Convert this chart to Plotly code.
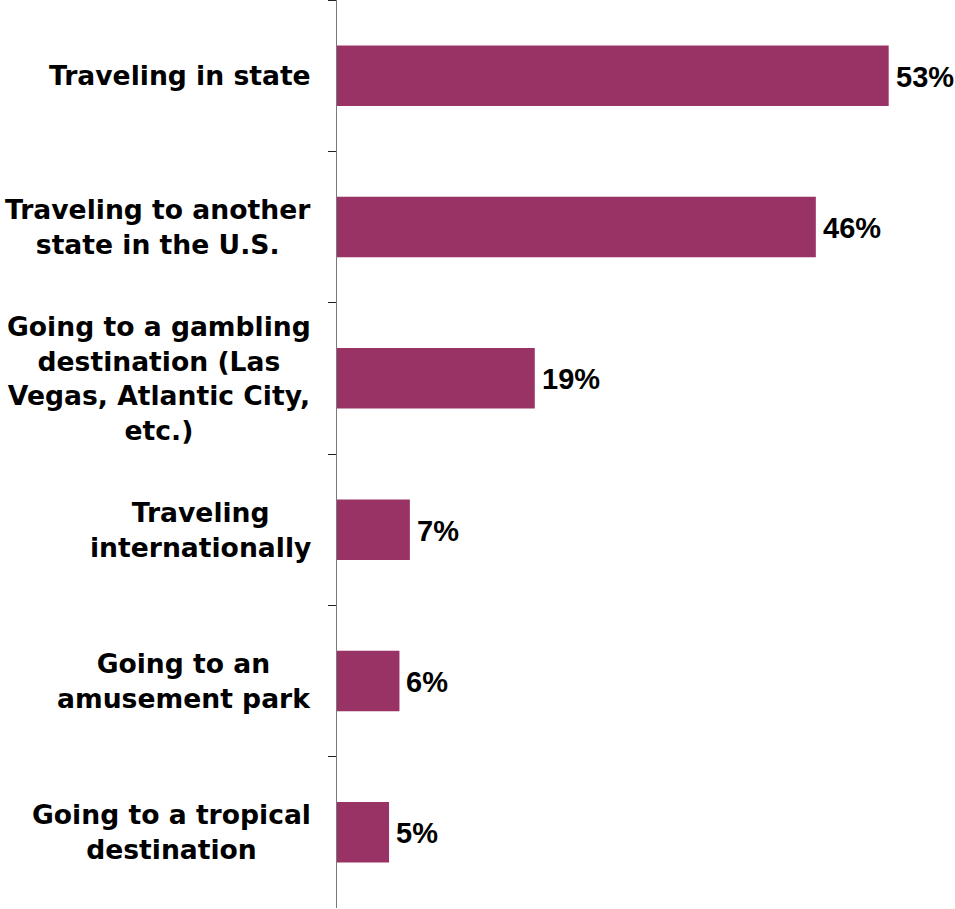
import plotly.graph_objects as go

categories = [
    "Traveling in state",
    "Traveling to another<br>state in the U.S.",
    "Going to a gambling<br>destination (Las<br>Vegas, Atlantic City,<br>etc.)",
    "Traveling<br>internationally",
    "Going to an<br>amusement park",
    "Going to a tropical<br>destination",
]
values = [53, 46, 19, 7, 6, 5]
value_labels = ["53%", "46%", "19%", "7%", "6%", "5%"]

BAR_COLOR = "#993366"

fig = go.Figure(
    go.Bar(
        x=values,
        y=categories,
        orientation="h",
        marker=dict(color=BAR_COLOR, line=dict(width=0)),
        hoverinfo="skip",
    )
)

annotations = []
for cat in categories:
    annotations.append(dict(
        x=0, xref="paper", y=cat, yref="y",
        text=cat, showarrow=False, xanchor="right", yanchor="middle",
        align="center", xshift=-24,
        font=dict(family="DejaVu Sans", size=26.6, color="#000000", weight="bold"),
    ))
for cat, v, lab in zip(categories, values, value_labels):
    annotations.append(dict(
        x=v, xref="x", y=cat, yref="y",
        text=lab, showarrow=False, xanchor="left", yanchor="middle",
        xshift=5, yshift=-1,
        font=dict(family="Liberation Sans", size=29, color="#000000", weight="bold"),
    ))

fig.update_layout(
    width=955, height=909,
    margin=dict(l=337, r=0, t=0, b=1),
    paper_bgcolor="white", plot_bgcolor="white",
    showlegend=False,
    bargap=0.6,
    annotations=annotations,
    xaxis=dict(range=[0, 59.37], visible=False, fixedrange=True),
    yaxis=dict(
        autorange="reversed",
        showticklabels=False,
        showline=True, linecolor="#7a7a7a", linewidth=1.5,
        ticks="outside", ticklen=8, tickcolor="#222222", tickwidth=1,
        tickson="boundaries",
        showgrid=False, zeroline=False, fixedrange=True,
    ),
)

fig.write_html(
    "out.html",
    config={"displayModeBar": False, "staticPlot": True},
    post_script="document.body.style.margin='0';document.body.style.overflow='hidden';",
)
